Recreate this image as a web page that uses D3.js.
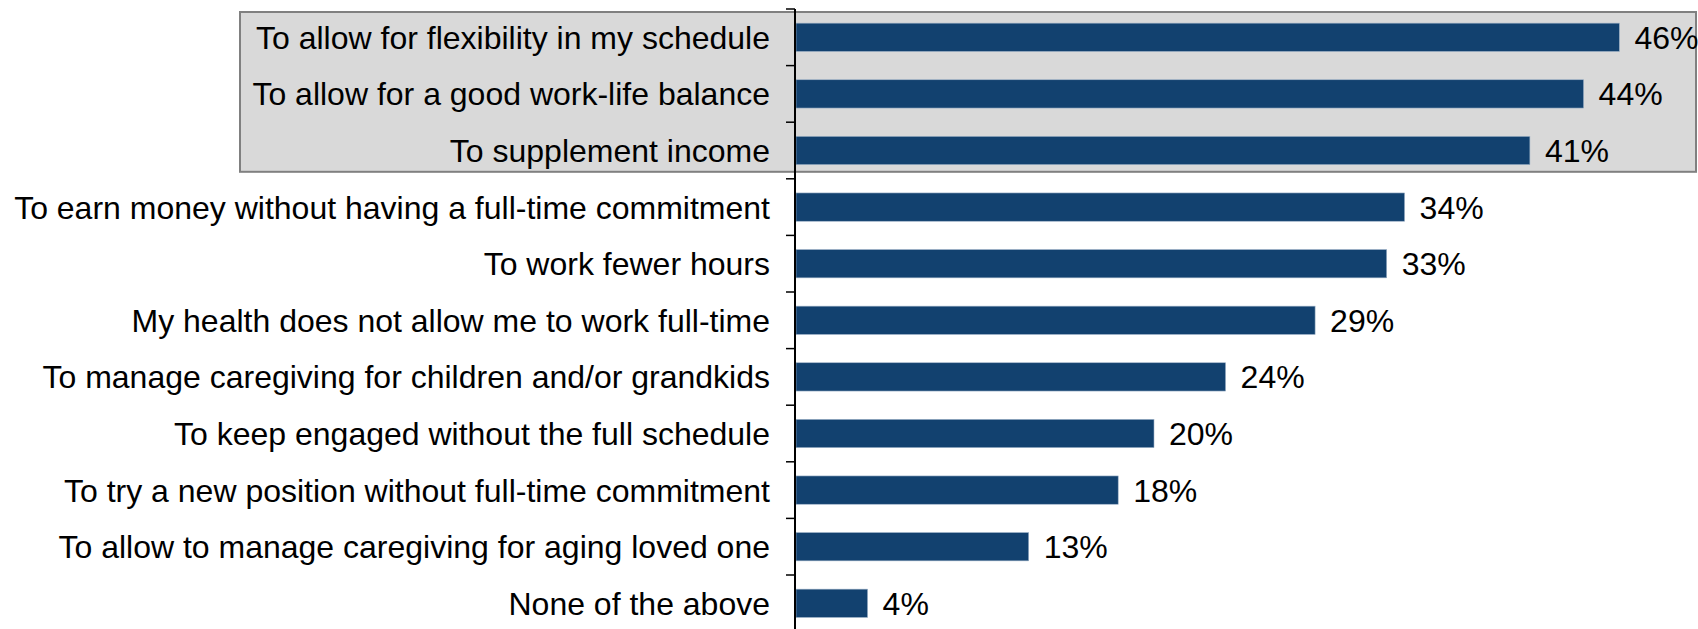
<!DOCTYPE html>
<html><head><meta charset="utf-8">
<script src="https://cdn.jsdelivr.net/npm/d3@7"></script>
<style>html,body{margin:0;padding:0;background:#fff;}svg{display:block;}</style>
</head><body>
<svg id="chart" width="1698" height="629"></svg>
<script>
const categories = [
  "To allow for flexibility in my schedule",
  "To allow for a good work-life balance",
  "To supplement income",
  "To earn money without having a full-time commitment",
  "To work fewer hours",
  "My health does not allow me to work full-time",
  "To manage caregiving for children and/or grandkids",
  "To keep engaged without the full schedule",
  "To try a new position without full-time commitment",
  "To allow to manage caregiving for aging loved one",
  "None of the above"
];
const values = [46, 44, 41, 34, 33, 29, 24, 20, 18, 13, 4];
const highlighted = categories.slice(0, 3);

(function () {
const svg = d3.select("#chart");
const axisX = 796, plotTop = 9, band = 56.6;
const x = d3.scaleLinear().domain([0, 50]).range([axisX, axisX + 895]);
const y = d3.scaleBand().domain(categories).range([plotTop, plotTop + band * categories.length]).paddingInner(0.5).paddingOuter(0.25);

const font = "'Liberation Sans', Arial, sans-serif";
const fs = 32;

// highlight box (slightly inset from the band boundaries)
const boxTop = y(highlighted[0]) - (y.step() - y.bandwidth()) / 2 + 3;
const boxBottom = y(highlighted[highlighted.length - 1]) + y.bandwidth() + (y.step() - y.bandwidth()) / 2 - 7;
svg.append("rect")
  .attr("x", 240).attr("y", boxTop)
  .attr("width", 1696 - 240)
  .attr("height", boxBottom - boxTop)
  .attr("fill", "#d9d9d9").attr("stroke", "#808080").attr("stroke-width", 2);

// bars
svg.selectAll("rect.bar").data(categories).join("rect")
  .attr("class", "bar")
  .attr("x", x(0)).attr("y", d => y(d))
  .attr("width", (d, i) => x(values[i]) - x(0))
  .attr("height", y.bandwidth())
  .attr("fill", "#12416f").attr("stroke", "#9fb3c8").attr("stroke-width", 0.6);

// value labels
svg.selectAll("text.val").data(categories).join("text")
  .attr("class", "val")
  .attr("x", (d, i) => x(values[i]) + 15)
  .attr("y", d => y(d) + y.bandwidth() / 2)
  .attr("dy", "0.36em")
  .attr("font-family", font).attr("font-size", fs).attr("fill", "#000")
  .text((d, i) => values[i] + "%");

// axis
const yAxis = d3.axisLeft(y).tickSize(0).tickPadding(26);
const g = svg.append("g").attr("transform", `translate(${axisX},0)`).call(yAxis);
g.select(".domain").remove();
g.selectAll("text").attr("font-family", font).attr("font-size", fs).attr("fill", "#000").attr("dy", "0.36em");

// axis line and ticks between categories
svg.append("line").attr("x1", axisX - 1).attr("x2", axisX - 1).attr("y1", plotTop).attr("y2", 629)
  .attr("stroke", "#000").attr("stroke-width", 2);
const tickYs = d3.range(categories.length + 1).map(i => plotTop + i * y.step());
svg.selectAll("line.tick").data(tickYs).join("line")
  .attr("class", "tick")
  .attr("x1", axisX - 10).attr("x2", axisX - 1).attr("y1", d => d).attr("y2", d => d)
  .attr("stroke", "#000").attr("stroke-width", 1.5);
})();
</script>
</body></html>
